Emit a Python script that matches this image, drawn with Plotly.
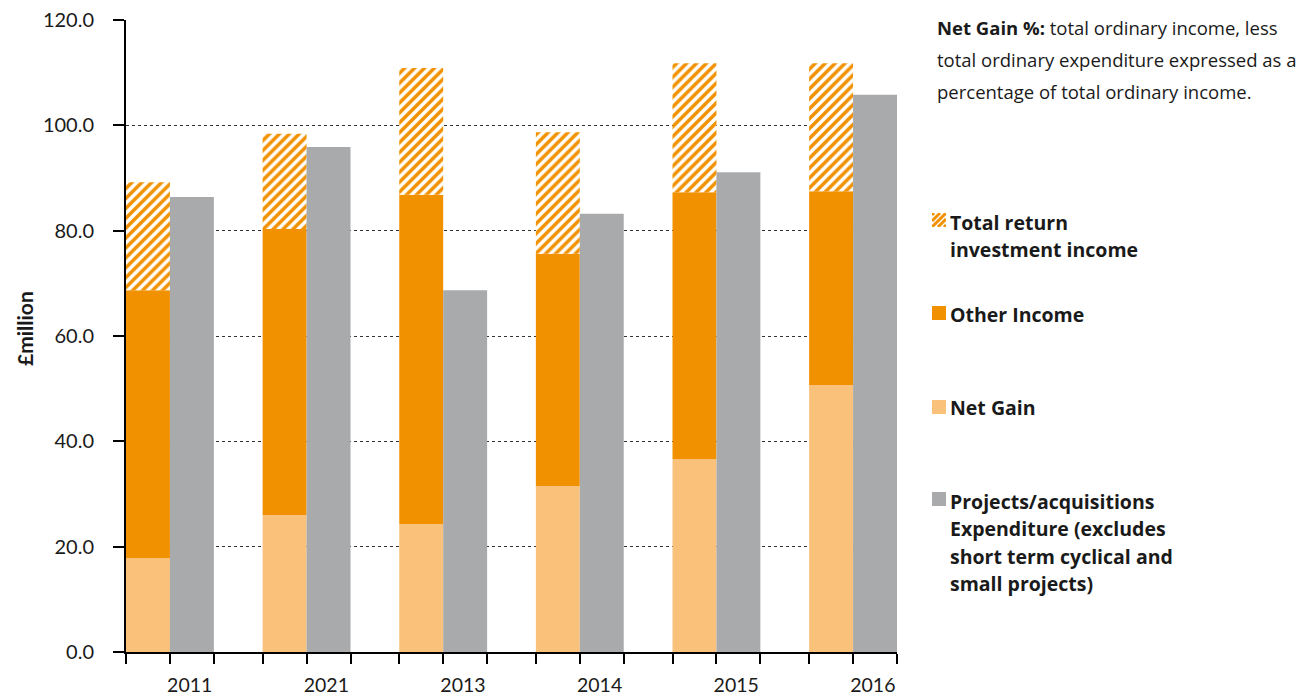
import plotly.graph_objects as go
import numpy as np

# ---------------- data ----------------
years = ["2011", "2021", "2013", "2014", "2015", "2016"]
net_gain = [17.8, 26.0, 24.3, 31.5, 36.6, 50.7]
other_income = [50.9, 54.3, 62.5, 44.1, 50.7, 36.8]
total_return = [20.5, 18.1, 24.1, 23.1, 24.5, 24.3]
projects = [86.4, 95.9, 68.7, 83.2, 91.1, 105.8]
y_ticks = [0, 20, 40, 60, 80, 100, 120]

note_lines = [
    "<b>Net Gain %:</b> total ordinary income, less",
    "total ordinary expenditure expressed as a",
    "percentage of total ordinary income.",
]
legend_total_return = ["Total return", "investment income"]
legend_other = ["Other Income"]
legend_net = ["Net Gain"]
legend_projects = ["Projects/acquisitions", "Expenditure (excludes",
                   "short term cyclical and", "small projects)"]

# ---------------- style ----------------
ORANGE = "#F29100"
LIGHT = "#F9C179"
GRAY = "#A9AAAC"
FONT = "Lato"
FONT2 = "Open Sans"
TXT = "#1a1a1a"

OFF = 8  # page body margin
W, H = 1310 - OFF, 695 - OFF
ML, MT = 126 - OFF, 20 - OFF
PW, PH = 771, 632
MR = W - ML - PW
MB = H - MT - PH

def px(x):
    return (x - OFF - ML) / PW

def py(y):
    return (OFF + H - MB - y) / PH

bw = 0.3216  # bar width in group units
xg = np.arange(len(years))
base_other = np.array(net_gain)
base_tr = base_other + np.array(other_income)

fig = go.Figure()
fig.add_trace(go.Bar(x=xg, y=net_gain, base=0, offset=0, width=bw,
                     marker=dict(color=LIGHT, line=dict(width=0)), name="Net Gain"))
fig.add_trace(go.Bar(x=xg, y=other_income, base=base_other, offset=0, width=bw,
                     marker=dict(color=ORANGE, line=dict(width=0)), name="Other Income"))
fig.add_trace(go.Bar(x=xg, y=total_return, base=base_tr, offset=0, width=bw,
                     marker=dict(color="white", line=dict(width=0),
                                 pattern=dict(shape="/", fgcolor=ORANGE, bgcolor="white",
                                              size=7, solidity=0.5, fillmode="replace",
                                              fgopacity=1)),
                     name="Total return investment income"))
fig.add_trace(go.Bar(x=xg, y=projects, base=0, offset=bw, width=bw,
                     marker=dict(color=GRAY, line=dict(width=0)), name="Projects"))

# tick marks at every bar edge, year labels under the expenditure bars
mark_vals = []
for i in range(len(years)):
    mark_vals += [i, i + bw, i + 2 * bw]
label_vals = [i + 1.45 * bw for i in range(len(years))]

fig.update_layout(
    width=W, height=H, margin=dict(l=ML, r=MR, t=MT, b=MB, autoexpand=False),
    plot_bgcolor="white", paper_bgcolor="white",
    barmode="overlay", showlegend=False,
    font=dict(family=FONT, color=TXT),
    xaxis=dict(range=[0, len(years) - 1 + 2 * bw], tickmode="array", automargin=False,
               tickvals=label_vals, ticktext=years, ticks="",
               minor=dict(tickmode="array", tickvals=mark_vals, ticks="outside",
                          ticklen=10, tickwidth=1.5, tickcolor="black", showgrid=False),
               showline=True, linecolor="black",
               linewidth=2, showgrid=False, zeroline=False, ticklabelstandoff=15,
               ticklabeloverflow="allow",
               tickfont=dict(size=19.5, family=FONT, color=TXT)),
    yaxis=dict(range=[0, 120], tickmode="array", tickvals=y_ticks, tickformat=".1f",
               automargin=False, ticklabeloverflow="allow", ticklabelstandoff=15,
               ticks="outside", ticklen=11, tickwidth=1.5, tickcolor="black",
               showline=True, linecolor="black", linewidth=2,
               showgrid=True, gridcolor="#333333", griddash="dot", gridwidth=1,
               zeroline=False, tickfont=dict(size=20, family=FONT, color=TXT)),
)

ann = []
# y axis title
ann.append(dict(x=px(24), y=py(329), xref="paper", yref="paper", text="<b>£million</b>",
                textangle=-90, showarrow=False, font=dict(size=21, family=FONT, color=TXT),
                xanchor="center", yanchor="middle"))
# note
for k, line in enumerate(note_lines):
    ann.append(dict(x=px(935), y=py(28 + k * 31.5), xref="paper", yref="paper", text=line,
                    showarrow=False, xanchor="left", yanchor="middle",
                    font=dict(size=18.5, family=FONT2, color=TXT)))

def legend_block(lines, y0):
    for k, line in enumerate(lines):
        ann.append(dict(x=px(948), y=py(y0 + k * 27.5), xref="paper", yref="paper",
                        text="<b>" + line + "</b>", showarrow=False, xanchor="left",
                        yanchor="middle", font=dict(size=19.5, family=FONT2, color=TXT)))

legend_block(legend_total_return, 222)
legend_block(legend_other, 314)
legend_block(legend_net, 408)
legend_block(legend_projects, 501)
fig.update_layout(annotations=ann)

shapes = []
def square(xc, yc, color, s=14):
    shapes.append(dict(type="rect", xref="paper", yref="paper",
                       x0=px(xc - s / 2), x1=px(xc + s / 2),
                       y0=py(yc + s / 2), y1=py(yc - s / 2),
                       fillcolor=color, line=dict(width=0), layer="above"))

square(939, 313, ORANGE)
square(939, 407, LIGHT)
square(939, 499, GRAY)

# hatched swatch (stripes clipped to the square)
hx0, hy0, s = 932, 213, 14
period = 6.0
for k in range(-1, 6):
    u = hx0 + hy0 + s + k * period - 2 * period  # x + y = u along "/" lines
    xa = max(hx0, u - (hy0 + s))
    xb = min(hx0 + s, u - hy0)
    if xb - xa <= 0.5:
        continue
    shapes.append(dict(type="line", xref="paper", yref="paper",
                       x0=px(xa), y0=py(u - xa), x1=px(xb), y1=py(u - xb),
                       line=dict(color=ORANGE, width=3), layer="above"))
# white masks trimming the stroke ends around the swatch
for (a, b, c, d) in [(hx0 - 6, hy0 - 6, hx0 + s + 6, hy0),
                     (hx0 - 6, hy0 + s, hx0 + s + 6, hy0 + s + 6),
                     (hx0 - 6, hy0, hx0, hy0 + s),
                     (hx0 + s, hy0, hx0 + s + 3, hy0 + s)]:
    shapes.append(dict(type="rect", xref="paper", yref="paper",
                       x0=px(a), x1=px(c), y0=py(d), y1=py(b),
                       fillcolor="white", line=dict(width=0), layer="above"))
fig.update_layout(shapes=shapes)

fig.write_html("out.html")
